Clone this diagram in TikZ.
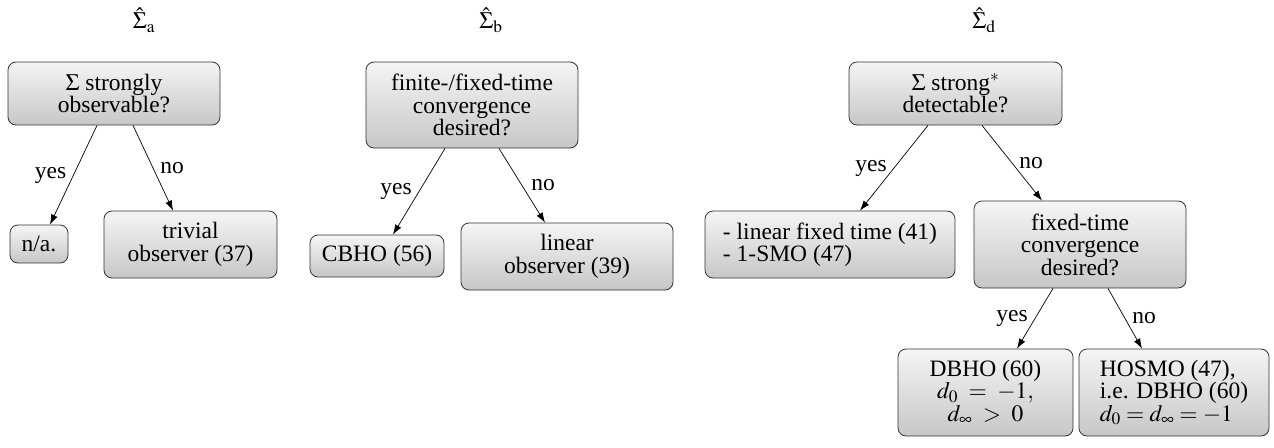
\documentclass[tikz,border=0pt]{standalone}
\usepackage{mathptmx}
\usepackage{fontspec}
\setmainfont{Liberation Serif}
\newfontfamily\tnr{Liberation Serif}
\usetikzlibrary{arrows.meta}
\begin{document}
\begin{tikzpicture}[x=1pt,y=-1pt,
  every node/.style={font=\tnr\fontsize{23.5}{22.5}\selectfont},
  box/.style={draw=black!80, line width=0.8pt, rounded corners=8pt, top color=black!4, bottom color=black!22, align=center, inner sep=0pt},
  arr/.style={-{Latex[length=10pt,width=7pt]}, line width=0.7pt},
  lab/.style={inner sep=7pt}]
\useasboundingbox (0,0) rectangle (1274,447);

\node (ta) at (144,20) {$\hat\Sigma_{\mathrm{a}}$};
\node (tb) at (491,20) {$\hat\Sigma_{\mathrm{b}}$};
\node (td) at (984,20) {$\hat\Sigma_{\mathrm{d}}$};

\node[box, minimum width=212pt, minimum height=63pt] (A1) at (114,93.5) {$\Sigma$ strongly\\observable?};
\node[box, minimum width=58pt, minimum height=38pt] (Na) at (39,244) {n/a.};
\node[box, minimum width=173pt, minimum height=67pt] (Ta) at (190.5,244.5) {trivial\\observer (37)};

\node[box, minimum width=212pt, minimum height=86pt] (B1) at (472,105) {finite-/fixed-time\\convergence\\desired?};
\node[box, minimum width=134pt, minimum height=42pt] (Cb) at (377,256) {CBHO (56)};
\node[box, minimum width=212pt, minimum height=67pt] (Lb) at (567,256.5) {linear\\observer (39)};

\node[box, minimum width=213pt, minimum height=63pt] (D1) at (955.5,93.5) {$\Sigma$ strong$^*$\\detectable?};
\node[box, align=left, minimum width=250pt, minimum height=67pt] (Ld) at (830,244.5) {- linear fixed time (41)\\- 1-SMO (47)};
\node[box, minimum width=212pt, minimum height=87pt] (F) at (1080,244.5) {fixed-time\\convergence\\desired?};
\node[box, minimum width=175pt, minimum height=87pt] (DB) at (985.5,392.5) {DBHO (60)\\$d_0 \;=\; -1,$\\$d_\infty \;>\; 0$};
\node[box, align=left, minimum width=190pt, minimum height=87pt] (HS) at (1174,392.5) {HOSMO (47),\\i.e. DBHO (60)\\$d_0 = d_\infty = -1$};

\draw[arr] ([xshift=-17pt]A1.south) -- node[lab, midway, left] {yes} ([xshift=11pt]Na.north);
\draw[arr] ([xshift=19pt]A1.south) -- node[lab, midway, right] {no} ([xshift=-17.5pt]Ta.north);

\draw[arr] ([xshift=-27pt]B1.south) -- node[lab, midway, left] {yes} ([xshift=16pt]Cb.north);
\draw[arr] ([xshift=27pt]B1.south) -- node[lab, midway, right, xshift=2pt] {no} ([xshift=-22pt]Lb.north);

\draw[arr] ([xshift=-27.5pt]D1.south) -- node[lab, midway, left] {yes} ([xshift=30pt]Ld.north);
\draw[arr] ([xshift=26.5pt]D1.south) -- node[lab, midway, right] {no} ([xshift=-38pt]F.north);

\draw[arr] ([xshift=-27pt]F.south) -- node[lab, midway, left] {yes} ([xshift=31.5pt]DB.north);
\draw[arr] ([xshift=28pt]F.south) -- node[lab, midway, right] {no} ([xshift=-32pt]HS.north);
\end{tikzpicture}
\end{document}
